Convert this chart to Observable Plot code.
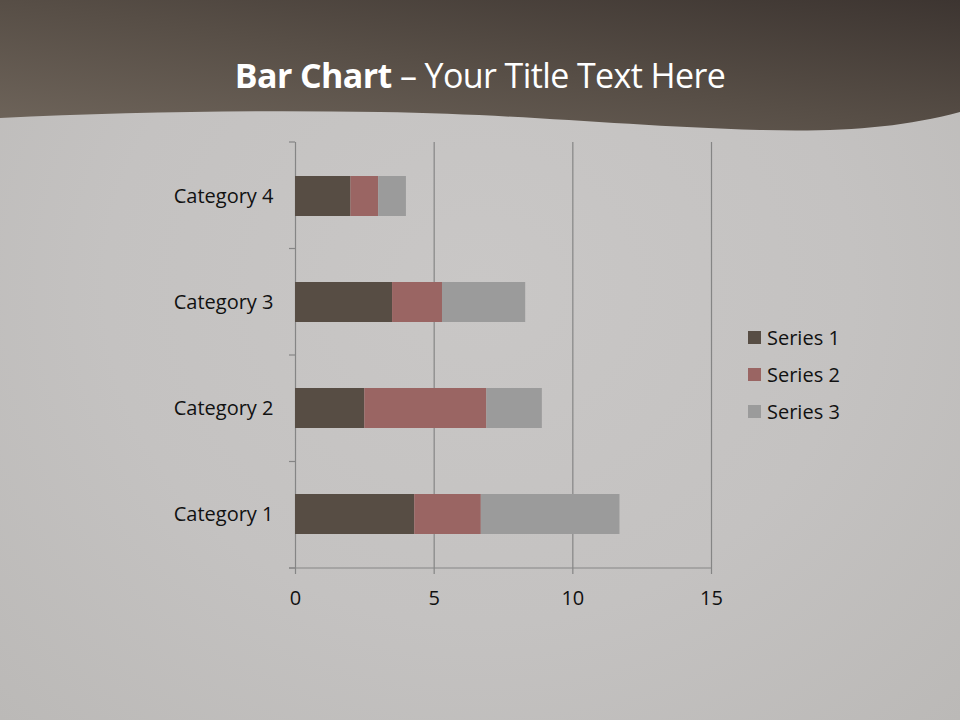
<!DOCTYPE html>
<html>
<head>
<meta charset="utf-8">
<script src="https://cdn.jsdelivr.net/npm/d3@7"></script>
<script src="https://cdn.jsdelivr.net/npm/@observablehq/plot@0.6"></script>
<style>
html, body { margin: 0; padding: 0; background: #c6c4c2; }
#page { position: relative; width: 960px; height: 720px; overflow: hidden;
  background: radial-gradient(ellipse at 50% 40%, #c9c7c6 0%, #c4c2c1 55%, #bbb9b7 100%);
  font-family: "Open Sans", "Noto Sans", sans-serif; }
#header { position: absolute; left: 0; top: 0; }
#title { position: absolute; left: 0; top: 51px; width: 960px; text-align: center; color: #ffffff;
  font-size: 34px; line-height: 48px; letter-spacing: -0.6px; }
#title b { font-weight: 700; }
#chart { position: absolute; left: 0; top: 0; }
#legend { position: absolute; left: 748px; top: 319px; }
.li { display: flex; align-items: center; height: 37px; font-size: 20px; color: #111; }
.sw { width: 13px; height: 13px; margin-right: 6px; }
</style>
</head>
<body>
<div id="page">
  <svg id="header" width="960" height="140" viewBox="0 0 960 140">
    <defs>
      <linearGradient id="hg" x1="0" y1="1" x2="1" y2="0">
        <stop offset="0" stop-color="#6f655b"/>
        <stop offset="0.5" stop-color="#574e46"/>
        <stop offset="1" stop-color="#3d3531"/>
      </linearGradient>
    </defs>
    <path d="M0,0 H960 V112 C900,128 840,132 760,130 C620,126 520,114 380,112 C250,110 120,112 0,118 Z" fill="url(#hg)"/>
  </svg>
  <div id="title"><b>Bar Chart</b> – Your Title Text Here</div>
  <div id="chart"></div>
  <div id="legend"></div>
</div>
<script>
const categories = ["Category 1", "Category 2", "Category 3", "Category 4"];
const seriesNames = ["Series 1", "Series 2", "Series 3"];
const series1 = [4.3, 2.5, 3.5, 2];
const series2 = [2.4, 4.4, 1.8, 1];
const series3 = [5, 2, 3, 1];
const xTicks = [0, 5, 10, 15];
const colors = ["#574d44", "#9a6563", "#9b9b9b"];

const seriesValues = [series1, series2, series3];
const data = [];
categories.forEach((c, i) => {
  seriesNames.forEach((s, j) => data.push({category: c, series: s, value: seriesValues[j][i]}));
});

const axisColor = "#858585";

// Boundary ticks on the category axis and the value axis line
function axisDecor(index, scales, values, dims) {
  const g = d3.create("svg:g");
  const top = dims.marginTop, bottom = dims.height - dims.marginBottom;
  const left = dims.marginLeft, right = dims.width - dims.marginRight;
  const n = categories.length;
  const step = (bottom - top) / n;
  for (let i = 0; i <= n; i++) {
    const yy = top + i * step;
    g.append("line").attr("x1", left - 6).attr("x2", left).attr("y1", yy).attr("y2", yy)
      .attr("stroke", axisColor).attr("stroke-width", 1.2);
  }
  g.append("line").attr("x1", left - 6).attr("x2", right).attr("y1", bottom).attr("y2", bottom)
    .attr("stroke", axisColor).attr("stroke-width", 1.2);
  return g.node();
}

const chart = Plot.plot({
  width: 960,
  height: 720,
  marginLeft: 295,
  marginRight: 249,
  marginTop: 142,
  marginBottom: 152,
  style: {background: "transparent", fontFamily: "'Open Sans', sans-serif", fontSize: "20px", color: "#111"},
  x: {domain: [0, 15], ticks: xTicks, label: null},
  y: {domain: categories.slice().reverse(), paddingInner: 0.625, paddingOuter: 0.3125, label: null},
  color: {domain: seriesNames, range: colors},
  marks: [
    Plot.gridX(xTicks.filter(t => t > 0), {stroke: axisColor, strokeOpacity: 1, strokeWidth: 1.2}),
    Plot.ruleX([0], {stroke: axisColor, strokeWidth: 1.2}),
    Plot.barX(data, Plot.stackX({x: "value", y: "category", fill: "series", order: seriesNames})),
    Plot.axisX({ticks: xTicks, tickSize: 6, tickPadding: 16, stroke: axisColor, strokeWidth: 1.2, fill: "#111", fontSize: 20, label: null}),
    Plot.axisY({tickSize: 0, tickPadding: 22, fill: "#111", fontSize: 20, label: null}),
    axisDecor
  ]
});
document.getElementById("chart").appendChild(chart);

const legend = document.getElementById("legend");
seriesNames.forEach((s, i) => {
  const row = document.createElement("div");
  row.className = "li";
  row.innerHTML = `<span class="sw" style="background:${colors[i]}"></span><span>${s}</span>`;
  legend.appendChild(row);
});
</script>
</body>
</html>
